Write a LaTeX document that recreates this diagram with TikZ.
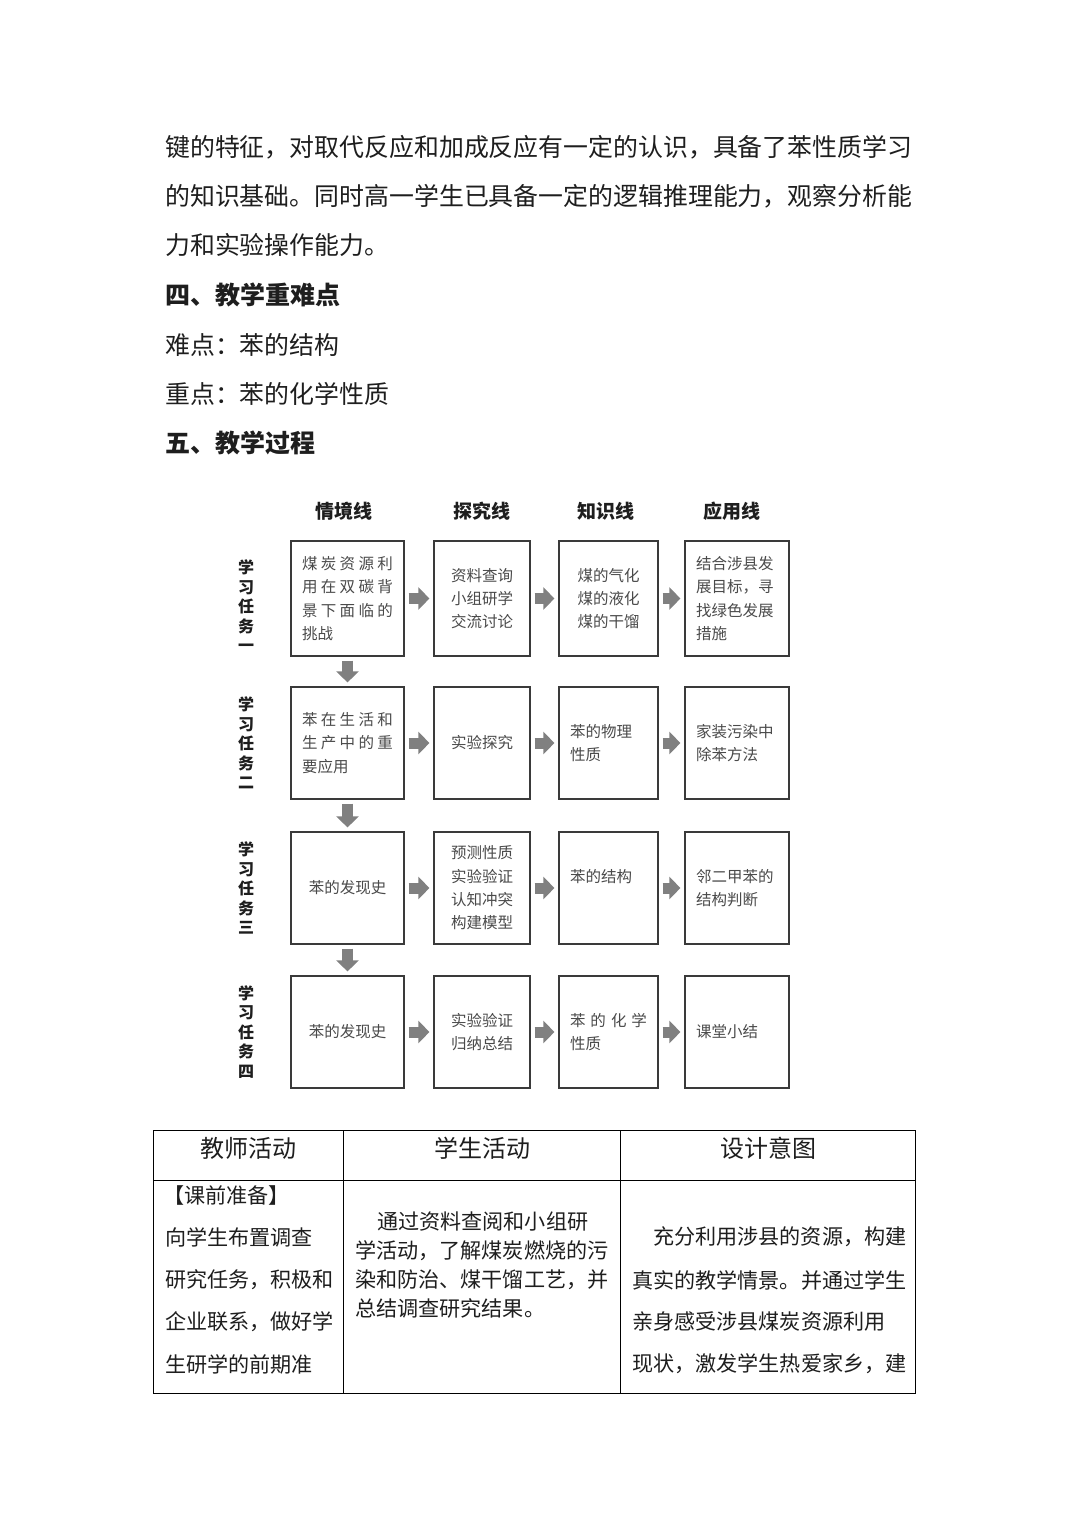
\documentclass[tikz,border=0pt]{standalone}
\usepackage{fontspec}
\setmainfont{Noto Sans CJK SC}
\usetikzlibrary{arrows.meta}
\definecolor{txt}{HTML}{1E1E1E}
\definecolor{boxtxt}{HTML}{4A4A4A}
\definecolor{arr}{HTML}{808080}
\definecolor{boxline}{HTML}{3A3A3A}
\newcommand\spreadline[1]{\leavevmode\hbox to \hsize{#1}}
\tikzset{
  para/.style={anchor=west, inner sep=0pt, text=txt, font=\fontsize{24.9}{24.9}\selectfont},
  headline/.style={anchor=west, inner sep=0pt, text=txt, font=\fontsize{25}{25}\selectfont\bfseries},
  colhead/.style={inner sep=0pt, text=txt, font=\fontsize{19}{19}\selectfont\bfseries},
  tasklabel/.style={inner sep=0pt, align=center, text=txt, font=\fontsize{16}{19.5}\selectfont\bfseries},
  taskbox/.style={draw=boxline, line width=1.2pt, fill=white, text=boxtxt,
     font=\fontsize{15.5}{23.3}\selectfont, inner xsep=11pt, inner ysep=0pt},
  colA/.style={taskbox, text width=91pt},
  colB/.style={taskbox, text width=74pt},
  colC/.style={taskbox, text width=77pt},
  colD/.style={taskbox, text width=82pt},
  rowone/.style={minimum height=115pt},
  rowrest/.style={minimum height=112pt},
  blockarrow/.style={draw=arr, line width=11pt, shorten <=4pt, shorten >=4pt,
     -{Triangle[length=11pt,width=22pt,fill=arr,color=arr]}},
  cell/.style={draw=black, line width=1.2pt, inner sep=0pt, anchor=north west},
  tabhead/.style={inner sep=0pt, text=txt, font=\fontsize{24}{24}\selectfont},
  tabtxt/.style={anchor=west, inner sep=0pt, text=txt, font=\fontsize{21.1}{21.1}\selectfont}
}
\begin{document}
\begin{tikzpicture}[x=1pt,y=-1pt]
\useasboundingbox[fill=white] (0,0) rectangle (1080,1527);

% paragraph text
\node[para] (p1) at (165,147) {键的特征，对取代反应和加成反应有一定的认识，具备了苯性质学习};
\node[para] (p2) at (165,196) {的知识基础。同时高一学生已具备一定的逻辑推理能力，观察分析能};
\node[para] (p3) at (165,245) {力和实验操作能力。};
\node[headline] (h4) at (165,295) {四、教学重难点};
\node[para] (d1) at (165,345) {难点：苯的结构};
\node[para] (d2) at (165,394) {重点：苯的化学性质};
\node[headline] (h5) at (165,443) {五、教学过程};

% column headers
\node[colhead] (ch1) at (344,511) {情境线};
\node[colhead] (ch2) at (482,511) {探究线};
\node[colhead] (ch3) at (606,511) {知识线};
\node[colhead] (ch4) at (732,511) {应用线};

% task labels
\node[tasklabel] (l1) at (246,606) {学\\习\\任\\务\\一};
\node[tasklabel] (l2) at (246,743) {学\\习\\任\\务\\二};
\node[tasklabel] (l3) at (246,888) {学\\习\\任\\务\\三};
\node[tasklabel] (l4) at (246,1032) {学\\习\\任\\务\\四};

% row 1
\node[colA, rowone, align=left] (a1) at (347.5,598.5) {\spreadline{煤\hfill 炭\hfill 资\hfill 源\hfill 利}\\\spreadline{用\hfill 在\hfill 双\hfill 碳\hfill 背}\\\spreadline{景\hfill 下\hfill 面\hfill 临\hfill 的}\\挑战};
\node[colB, rowone, align=center] (b1) at (482,598.5) {资料查询\\小组研学\\交流讨论};
\node[colC, rowone, align=center] (c1) at (608.5,598.5) {煤的气化\\煤的液化\\煤的干馏};
\node[colD, rowone, align=left] (e1) at (737,598.5) {结合涉县发\\展目标，寻\\找绿色发展\\措施};

% row 2
\node[colA, rowrest, align=left] (a2) at (347.5,743) {\spreadline{苯\hfill 在\hfill 生\hfill 活\hfill 和}\\\spreadline{生\hfill 产\hfill 中\hfill 的\hfill 重}\\要应用};
\node[colB, rowrest, align=center] (b2) at (482,743) {实验探究};
\node[colC, rowrest, align=left] (c2) at (608.5,743) {苯的物理\\性质};
\node[colD, rowrest, align=left] (e2) at (737,743) {家装污染中\\除苯方法};

% row 3
\node[colA, rowrest, align=center] (a3) at (347.5,888) {苯的发现史};
\node[colB, rowrest, align=center] (b3) at (482,888) {预测性质\\实验验证\\认知冲突\\构建模型};
\node[colC, rowrest, align=left] (c3) at (608.5,888) {苯的结构\\\mbox{}};
\node[colD, rowrest, align=left] (e3) at (737,888) {邻二甲苯的\\结构判断};

% row 4
\node[colA, rowrest, align=center] (a4) at (347.5,1032) {苯的发现史};
\node[colB, rowrest, align=center] (b4) at (482,1032) {实验验证\\归纳总结};
\node[colC, rowrest, align=left] (c4) at (608.5,1032) {\spreadline{苯\hfill 的\hfill 化\hfill 学}\\性质};
\node[colD, rowrest, align=left] (e4) at (737,1032) {课堂小结};

% horizontal arrows
\foreach \r in {1,2,3,4}{
  \draw[blockarrow] (a\r.east) -- (b\r.west);
  \draw[blockarrow] (b\r.east) -- (c\r.west);
  \draw[blockarrow] (c\r.east) -- (e\r.west);
}
% vertical arrows
\draw[blockarrow] (a1.south) -- (a2.north);
\draw[blockarrow] (a2.south) -- (a3.north);
\draw[blockarrow] (a3.south) -- (a4.north);

% table
\node[cell, minimum width=190pt, minimum height=50pt] (th1) at (153,1130) {};
\node[cell, minimum width=277pt, minimum height=50pt] (th2) at (343,1130) {};
\node[cell, minimum width=295pt, minimum height=50pt] (th3) at (620,1130) {};
\node[cell, minimum width=190pt, minimum height=213pt] (tb1) at (153,1180) {};
\node[cell, minimum width=277pt, minimum height=213pt] (tb2) at (343,1180) {};
\node[cell, minimum width=295pt, minimum height=213pt] (tb3) at (620,1180) {};

\node[tabhead] (t1) at (248,1148) {教师活动};
\node[tabhead] (t2) at (482,1148) {学生活动};
\node[tabhead] (t3) at (768,1148) {设计意图};

\node[tabtxt] (x1) at (163,1195) {【课前准备】};
\node[tabtxt] (x2) at (165,1237) {向学生布置调查};
\node[tabtxt] (x3) at (165,1280) {研究任务，积极和};
\node[tabtxt] (x4) at (165,1322) {企业联系，做好学};
\node[tabtxt] (x5) at (165,1364) {生研学的前期准};

\node[tabtxt] (y1) at (377,1222) {通过资料查阅和小组研};
\node[tabtxt] (y2) at (355,1251) {学活动，了解煤炭燃烧的污};
\node[tabtxt] (y3) at (355,1280) {染和防治、煤干馏工艺，并};
\node[tabtxt] (y4) at (355,1308) {总结调查研究结果。};

\node[tabtxt] (z1) at (653,1237) {充分利用涉县的资源，构建};
\node[tabtxt] (z2) at (632,1280) {真实的教学情景。并通过学生};
\node[tabtxt] (z3) at (632,1322) {亲身感受涉县煤炭资源利用};
\node[tabtxt] (z4) at (632,1364) {现状，激发学生热爱家乡，建};
\end{tikzpicture}
\end{document}
